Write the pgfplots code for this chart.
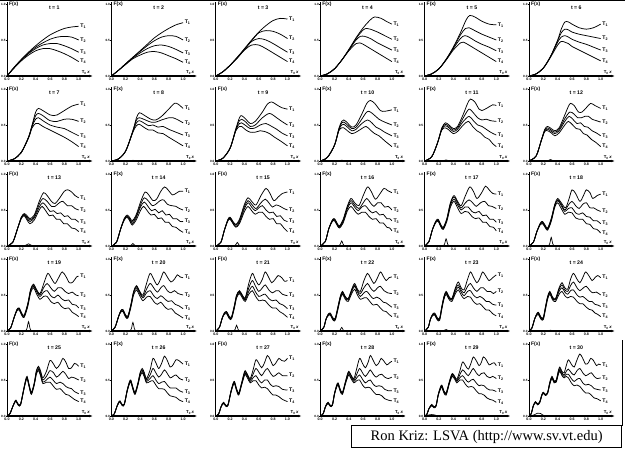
\documentclass[border=0pt]{standalone}
\usepackage{fontspec}
\setmainfont{Liberation Sans}
\newfontfamily\timesf{Liberation Serif}
\usepackage{pgfplots}
\pgfplotsset{compat=1.18}
\usetikzlibrary{arrows.meta}
\pgfplotsset{
 panel/.style={
  scale only axis, width=85.3pt, height=74.2pt,
  xmin=0, xmax=1.19, ymin=0, ymax=1.03,
  axis x line=bottom, axis y line=left,
  x axis line style={-{Stealth[length=3pt,width=2.4pt]}, line width=1.1pt},
  y axis line style={-, line width=1pt},
  xtick={0,0.2,0.4,0.6,0.8,1}, xticklabels={0.0,0.2,0.4,0.6,0.8,1.0},
  ytick={0,0.5,1}, yticklabels={0.0,0.5,1.0},
  tick label style={font=\fontsize{3.6}{4}\selectfont\bfseries, inner sep=0.6pt},
  yticklabel style={font=\fontsize{3.1}{3.5}\selectfont\bfseries, inner sep=0.25pt},
  tick align=outside, major tick length=1pt, tick style={black, line width=0.5pt},
  clip=false, anchor=south west,
 }
}
\tikzset{
 curve/.style={smooth, black, line width=0.75pt, mark=none},
 lab/.style={anchor=west, font=\fontsize{5.2}{6}\selectfont\bfseries, inner sep=1.3pt},
 ttl/.style={font=\fontsize{5.2}{6}\selectfont\bfseries},
 bump/.style={smooth, black, line width=0.7pt, mark=none},
}
\newcommand\panel[8]{%
 \begin{axis}[panel, at={(#1)}]
 \addplot[curve] coordinates {#4} node[lab,pos=1]{T\textsubscript{1}};
 \addplot[curve] coordinates {#5} node[lab,pos=1]{T\textsubscript{2}};
 \addplot[curve] coordinates {#6} node[lab,pos=1]{T\textsubscript{3}};
 \addplot[curve] coordinates {#7} node[lab,pos=1]{T\textsubscript{4}};
 \ifx\relax#8\relax\else\addplot[bump] coordinates {#8};\fi
 \node[ttl] at (axis cs:0.66,0.95) {t = #3};
 \node[anchor=west, font=\fontsize{5}{6}\selectfont\bfseries, inner sep=0.5pt] at (axis cs:0.02,1.0) {F(x)};
 \node[anchor=south, font=\fontsize{4.3}{5}\selectfont\bfseries, inner sep=0.5pt] at (axis cs:1.1,0.01) {T\textsubscript{0}\,\textit{x}};
 \end{axis}}
\begin{document}
\begin{tikzpicture}
\useasboundingbox (0,0) rectangle (625pt,-450pt);
\draw[line width=1pt] (0,-0.5pt) -- (625pt,-0.5pt);
\draw[line width=0.8pt] (622pt,-340pt) -- (622pt,-426pt);
% ---------------- row 1
\panel{7pt,-76pt}{}{1}
{(0,0)(0.1,0.12)(0.2,0.23)(0.3,0.33)(0.4,0.42)(0.5,0.5)(0.6,0.57)(0.7,0.62)(0.8,0.66)(0.9,0.68)(1.0,0.69)}
{(0,0)(0.1,0.12)(0.2,0.23)(0.3,0.32)(0.4,0.4)(0.5,0.46)(0.6,0.51)(0.7,0.54)(0.8,0.55)(0.9,0.54)(1.0,0.5)}
{(0,0)(0.1,0.12)(0.2,0.22)(0.3,0.31)(0.4,0.38)(0.5,0.43)(0.6,0.45)(0.7,0.45)(0.8,0.42)(0.9,0.38)(1.0,0.33)}
{(0,0)(0.1,0.11)(0.2,0.21)(0.3,0.29)(0.4,0.35)(0.5,0.38)(0.6,0.38)(0.7,0.35)(0.8,0.31)(0.9,0.26)(1.0,0.2)}
{}
\panel{111.4pt,-76pt}{}{2}
{(0,0)(0.1,0.08)(0.2,0.17)(0.3,0.26)(0.4,0.35)(0.5,0.44)(0.6,0.53)(0.7,0.6)(0.8,0.66)(0.9,0.71)(1.0,0.74)}
{(0,0)(0.1,0.08)(0.2,0.17)(0.3,0.26)(0.4,0.34)(0.5,0.42)(0.6,0.49)(0.7,0.54)(0.8,0.56)(0.9,0.55)(1.0,0.5)}
{(0,0)(0.1,0.08)(0.2,0.17)(0.3,0.25)(0.4,0.32)(0.5,0.38)(0.6,0.42)(0.7,0.43)(0.8,0.41)(0.9,0.37)(1.0,0.32)}
{(0,0)(0.1,0.08)(0.2,0.16)(0.3,0.24)(0.4,0.29)(0.5,0.33)(0.6,0.34)(0.7,0.32)(0.8,0.28)(0.9,0.24)(1.0,0.19)}
{}
\panel{215.8pt,-76pt}{}{3}
{(0,0)(0.1,0.06)(0.2,0.15)(0.3,0.26)(0.4,0.38)(0.5,0.5)(0.6,0.61)(0.7,0.7)(0.8,0.77)(0.9,0.8)(1.0,0.79)}
{(0,0)(0.1,0.06)(0.2,0.15)(0.3,0.26)(0.4,0.37)(0.5,0.49)(0.6,0.6)(0.7,0.63)(0.8,0.62)(0.9,0.58)(1.0,0.52)}
{(0,0)(0.1,0.06)(0.2,0.15)(0.3,0.25)(0.4,0.37)(0.5,0.48)(0.6,0.52)(0.7,0.5)(0.8,0.45)(0.9,0.39)(1.0,0.33)}
{(0,0)(0.1,0.06)(0.2,0.15)(0.3,0.25)(0.4,0.36)(0.5,0.43)(0.6,0.43)(0.7,0.38)(0.8,0.32)(0.9,0.26)(1.0,0.2)}
{}
\panel{320.2pt,-76pt}{}{4}
{(0,0)(0.1,0.03)(0.2,0.1)(0.3,0.22)(0.4,0.37)(0.5,0.53)(0.6,0.67)(0.7,0.78)(0.76,0.82)(0.85,0.8)(0.92,0.76)(1.0,0.72)}
{(0,0)(0.1,0.03)(0.2,0.1)(0.3,0.22)(0.4,0.36)(0.5,0.52)(0.6,0.64)(0.65,0.66)(0.7,0.65)(0.8,0.61)(0.9,0.56)(1.0,0.51)}
{(0,0)(0.1,0.03)(0.2,0.1)(0.3,0.22)(0.4,0.36)(0.5,0.5)(0.56,0.55)(0.62,0.55)(0.7,0.52)(0.8,0.46)(0.9,0.41)(1.0,0.36)}
{(0,0)(0.1,0.03)(0.2,0.1)(0.3,0.22)(0.4,0.35)(0.5,0.45)(0.55,0.46)(0.6,0.44)(0.7,0.38)(0.8,0.32)(0.9,0.26)(1.0,0.2)}
{}
\panel{424.6pt,-76pt}{}{5}
{(0,0)(0.1,0.03)(0.2,0.1)(0.3,0.23)(0.4,0.4)(0.5,0.6)(0.58,0.78)(0.63,0.84)(0.7,0.82)(0.8,0.76)(0.9,0.72)(1.0,0.71)}
{(0,0)(0.1,0.03)(0.2,0.1)(0.3,0.23)(0.4,0.39)(0.5,0.57)(0.57,0.66)(0.62,0.67)(0.7,0.63)(0.8,0.58)(0.9,0.54)(1.0,0.5)}
{(0,0)(0.1,0.03)(0.2,0.1)(0.3,0.23)(0.4,0.38)(0.5,0.52)(0.56,0.56)(0.62,0.54)(0.7,0.49)(0.8,0.44)(0.9,0.4)(1.0,0.35)}
{(0,0)(0.1,0.03)(0.2,0.1)(0.3,0.22)(0.4,0.36)(0.5,0.46)(0.54,0.47)(0.6,0.44)(0.7,0.38)(0.8,0.32)(0.9,0.26)(1.0,0.2)}
{}
\panel{529pt,-76pt}{}{6}
{(0,0)(0.1,0.03)(0.2,0.11)(0.3,0.27)(0.4,0.5)(0.45,0.65)(0.5,0.75)(0.55,0.75)(0.6,0.72)(0.7,0.67)(0.8,0.65)(0.9,0.67)(1.0,0.72)}
{(0,0)(0.1,0.03)(0.2,0.11)(0.3,0.27)(0.4,0.49)(0.45,0.6)(0.5,0.65)(0.55,0.64)(0.6,0.61)(0.7,0.58)(0.8,0.56)(0.9,0.54)(1.0,0.52)}
{(0,0)(0.1,0.03)(0.2,0.11)(0.3,0.27)(0.4,0.47)(0.45,0.54)(0.5,0.56)(0.55,0.54)(0.6,0.51)(0.7,0.47)(0.8,0.44)(0.9,0.4)(1.0,0.36)}
{(0,0)(0.1,0.03)(0.2,0.11)(0.3,0.26)(0.4,0.43)(0.45,0.48)(0.5,0.47)(0.55,0.45)(0.6,0.41)(0.7,0.36)(0.8,0.31)(0.9,0.26)(1.0,0.21)}
{}
% ---------------- row 2
\panel{7pt,-161pt}{}{7}
{(0,0)(0.1,0.03)(0.2,0.12)(0.3,0.33)(0.35,0.5)(0.4,0.68)(0.44,0.73)(0.5,0.7)(0.6,0.64)(0.65,0.63)(0.7,0.64)(0.8,0.7)(0.9,0.76)(1.0,0.79)}
{(0,0)(0.1,0.03)(0.2,0.12)(0.3,0.33)(0.35,0.49)(0.4,0.63)(0.44,0.66)(0.5,0.63)(0.6,0.56)(0.7,0.55)(0.8,0.58)(0.9,0.58)(1.0,0.55)}
{(0,0)(0.1,0.03)(0.2,0.12)(0.3,0.32)(0.35,0.48)(0.4,0.58)(0.44,0.6)(0.5,0.56)(0.6,0.5)(0.7,0.47)(0.8,0.45)(0.9,0.4)(1.0,0.35)}
{(0,0)(0.1,0.03)(0.2,0.12)(0.3,0.32)(0.35,0.46)(0.4,0.52)(0.44,0.52)(0.5,0.48)(0.6,0.43)(0.7,0.38)(0.8,0.33)(0.9,0.27)(1.0,0.2)}
{}
\panel{111.4pt,-161pt}{}{8}
{(0,0)(0.1,0.03)(0.2,0.14)(0.3,0.42)(0.35,0.6)(0.39,0.67)(0.45,0.64)(0.55,0.58)(0.62,0.57)(0.7,0.62)(0.8,0.72)(0.88,0.8)(0.93,0.79)(1.0,0.73)}
{(0,0)(0.1,0.03)(0.2,0.14)(0.3,0.42)(0.35,0.57)(0.39,0.6)(0.45,0.58)(0.55,0.54)(0.62,0.54)(0.7,0.57)(0.8,0.6)(0.86,0.6)(0.93,0.57)(1.0,0.53)}
{(0,0)(0.1,0.03)(0.2,0.14)(0.3,0.41)(0.35,0.53)(0.39,0.56)(0.45,0.53)(0.52,0.49)(0.58,0.5)(0.65,0.47)(0.72,0.48)(0.8,0.44)(0.9,0.4)(1.0,0.36)}
{(0,0)(0.1,0.03)(0.2,0.14)(0.3,0.4)(0.35,0.49)(0.39,0.51)(0.45,0.47)(0.52,0.43)(0.58,0.43)(0.65,0.39)(0.72,0.38)(0.8,0.33)(0.9,0.27)(1.0,0.21)}
{(0.26,0)(0.3,0.01)(0.34,0)}
\panel{215.8pt,-161pt}{}{9}
{(0,0)(0.1,0.04)(0.2,0.18)(0.28,0.45)(0.33,0.6)(0.36,0.63)(0.42,0.58)(0.48,0.52)(0.55,0.55)(0.65,0.68)(0.72,0.79)(0.78,0.82)(0.85,0.78)(0.92,0.74)(1.0,0.72)}
{(0,0)(0.1,0.04)(0.2,0.18)(0.28,0.44)(0.33,0.56)(0.36,0.58)(0.42,0.54)(0.48,0.48)(0.55,0.5)(0.65,0.6)(0.75,0.66)(0.85,0.6)(0.92,0.55)(1.0,0.5)}
{(0,0)(0.1,0.04)(0.2,0.18)(0.28,0.43)(0.33,0.52)(0.36,0.53)(0.42,0.49)(0.48,0.45)(0.55,0.46)(0.62,0.5)(0.7,0.52)(0.78,0.48)(0.85,0.44)(0.92,0.39)(1.0,0.35)}
{(0,0)(0.1,0.04)(0.2,0.18)(0.28,0.42)(0.33,0.48)(0.36,0.48)(0.42,0.43)(0.48,0.4)(0.55,0.4)(0.62,0.42)(0.68,0.41)(0.75,0.38)(0.82,0.33)(0.9,0.28)(1.0,0.21)}
{(0.26,0)(0.3,0.01)(0.34,0)}
\panel{320.2pt,-161pt}{}{10}
{(0,0)(0.1,0.05)(0.2,0.22)(0.26,0.45)(0.3,0.55)(0.33,0.57)(0.38,0.53)(0.44,0.47)(0.5,0.5)(0.58,0.65)(0.65,0.8)(0.7,0.84)(0.76,0.8)(0.84,0.7)(0.9,0.69)(1.0,0.71)}
{(0,0)(0.1,0.05)(0.2,0.22)(0.26,0.44)(0.3,0.53)(0.33,0.54)(0.38,0.5)(0.44,0.45)(0.5,0.47)(0.58,0.58)(0.64,0.67)(0.68,0.69)(0.74,0.65)(0.82,0.58)(0.9,0.54)(1.0,0.5)}
{(0,0)(0.1,0.05)(0.2,0.22)(0.26,0.43)(0.3,0.5)(0.33,0.51)(0.38,0.47)(0.44,0.42)(0.5,0.44)(0.58,0.52)(0.66,0.57)(0.72,0.53)(0.78,0.47)(0.84,0.44)(0.9,0.4)(1.0,0.35)}
{(0,0)(0.1,0.05)(0.2,0.22)(0.26,0.42)(0.3,0.46)(0.33,0.46)(0.38,0.42)(0.44,0.38)(0.5,0.4)(0.58,0.45)(0.64,0.48)(0.7,0.43)(0.76,0.38)(0.82,0.35)(0.9,0.28)(1.0,0.2)}
{(0.26,0)(0.3,0.012)(0.34,0)}
\panel{424.6pt,-161pt}{}{11}
{(0,0)(0.1,0.06)(0.18,0.25)(0.24,0.46)(0.29,0.53)(0.34,0.5)(0.4,0.45)(0.46,0.48)(0.54,0.65)(0.6,0.8)(0.64,0.86)(0.7,0.82)(0.76,0.72)(0.8,0.7)(0.88,0.74)(0.95,0.78)(1.0,0.77)}
{(0,0)(0.1,0.06)(0.18,0.25)(0.24,0.45)(0.29,0.51)(0.34,0.48)(0.4,0.43)(0.46,0.46)(0.54,0.6)(0.6,0.7)(0.63,0.72)(0.68,0.67)(0.74,0.6)(0.8,0.57)(0.86,0.58)(0.92,0.56)(1.0,0.55)}
{(0,0)(0.1,0.06)(0.18,0.25)(0.24,0.44)(0.29,0.49)(0.34,0.46)(0.4,0.41)(0.46,0.44)(0.54,0.55)(0.62,0.62)(0.68,0.56)(0.74,0.5)(0.8,0.48)(0.86,0.44)(0.92,0.4)(1.0,0.36)}
{(0,0)(0.1,0.06)(0.18,0.25)(0.24,0.43)(0.29,0.46)(0.34,0.43)(0.4,0.38)(0.46,0.41)(0.54,0.5)(0.61,0.55)(0.67,0.48)(0.73,0.42)(0.78,0.39)(0.84,0.33)(0.9,0.3)(0.95,0.24)(1.0,0.2)}
{(0.26,0)(0.3,0.015)(0.34,0)}
\panel{529pt,-161pt}{}{12}
{(0,0)(0.1,0.07)(0.17,0.28)(0.22,0.44)(0.26,0.48)(0.31,0.45)(0.36,0.42)(0.42,0.46)(0.5,0.64)(0.55,0.76)(0.58,0.8)(0.63,0.77)(0.69,0.68)(0.74,0.68)(0.8,0.74)(0.86,0.8)(0.92,0.77)(1.0,0.73)}
{(0,0)(0.1,0.07)(0.17,0.28)(0.22,0.43)(0.26,0.46)(0.31,0.43)(0.36,0.4)(0.42,0.44)(0.5,0.59)(0.57,0.68)(0.63,0.65)(0.68,0.6)(0.73,0.6)(0.78,0.62)(0.83,0.62)(0.88,0.58)(0.94,0.56)(1.0,0.54)}
{(0,0)(0.1,0.07)(0.17,0.28)(0.22,0.42)(0.26,0.44)(0.31,0.41)(0.36,0.38)(0.42,0.42)(0.5,0.55)(0.56,0.62)(0.62,0.57)(0.67,0.52)(0.72,0.53)(0.77,0.48)(0.82,0.47)(0.88,0.42)(0.94,0.39)(1.0,0.35)}
{(0,0)(0.1,0.07)(0.17,0.28)(0.22,0.41)(0.26,0.42)(0.31,0.39)(0.36,0.35)(0.42,0.39)(0.5,0.5)(0.55,0.55)(0.61,0.5)(0.66,0.45)(0.71,0.44)(0.76,0.38)(0.81,0.36)(0.87,0.3)(0.93,0.26)(1.0,0.2)}
{(0.26,0)(0.3,0.02)(0.34,0)}
% ---------------- row 3
\panel{7pt,-246pt}{}{13}
{(0,0)(0.08,0.05)(0.15,0.25)(0.2,0.4)(0.24,0.45)(0.28,0.42)(0.32,0.38)(0.38,0.43)(0.45,0.62)(0.51,0.74)(0.56,0.7)(0.62,0.62)(0.67,0.59)(0.73,0.66)(0.8,0.76)(0.85,0.78)(0.9,0.75)(0.95,0.7)(1.0,0.67)}
{(0,0)(0.08,0.05)(0.15,0.25)(0.2,0.4)(0.24,0.44)(0.28,0.4)(0.32,0.36)(0.38,0.41)(0.45,0.58)(0.5,0.66)(0.56,0.62)(0.62,0.55)(0.67,0.55)(0.73,0.6)(0.78,0.62)(0.84,0.56)(0.9,0.56)(0.95,0.52)(1.0,0.5)}
{(0,0)(0.08,0.05)(0.15,0.25)(0.2,0.39)(0.24,0.43)(0.28,0.38)(0.32,0.34)(0.38,0.39)(0.45,0.54)(0.5,0.6)(0.55,0.55)(0.6,0.48)(0.65,0.49)(0.7,0.45)(0.75,0.46)(0.8,0.41)(0.85,0.42)(0.9,0.37)(0.95,0.37)(1.0,0.33)}
{(0,0)(0.08,0.05)(0.15,0.25)(0.2,0.38)(0.24,0.42)(0.28,0.36)(0.32,0.31)(0.38,0.36)(0.45,0.5)(0.49,0.55)(0.54,0.49)(0.59,0.42)(0.64,0.43)(0.69,0.37)(0.74,0.37)(0.79,0.31)(0.84,0.31)(0.9,0.25)(0.95,0.24)(1.0,0.2)}
{(0.24,0)(0.27,0.015)(0.3,0.03)(0.33,0.015)(0.36,0)}
\panel{111.4pt,-246pt}{}{14}
{(0,0)(0.07,0.05)(0.13,0.24)(0.18,0.38)(0.22,0.43)(0.26,0.39)(0.29,0.35)(0.34,0.42)(0.41,0.62)(0.47,0.75)(0.52,0.71)(0.58,0.63)(0.63,0.65)(0.69,0.76)(0.74,0.82)(0.79,0.78)(0.85,0.71)(0.9,0.73)(0.95,0.76)(1.0,0.76)}
{(0,0)(0.07,0.05)(0.13,0.24)(0.18,0.38)(0.22,0.42)(0.26,0.37)(0.29,0.33)(0.34,0.4)(0.41,0.58)(0.46,0.67)(0.52,0.62)(0.57,0.56)(0.62,0.58)(0.68,0.63)(0.73,0.64)(0.78,0.58)(0.84,0.56)(0.9,0.55)(0.95,0.52)(1.0,0.5)}
{(0,0)(0.07,0.05)(0.13,0.24)(0.18,0.37)(0.22,0.41)(0.26,0.36)(0.29,0.31)(0.34,0.38)(0.41,0.55)(0.46,0.61)(0.51,0.55)(0.56,0.49)(0.61,0.51)(0.66,0.46)(0.71,0.49)(0.76,0.43)(0.81,0.44)(0.86,0.38)(0.91,0.38)(0.96,0.34)(1.0,0.34)}
{(0,0)(0.07,0.05)(0.13,0.24)(0.18,0.36)(0.22,0.4)(0.26,0.34)(0.29,0.29)(0.34,0.35)(0.41,0.5)(0.45,0.55)(0.5,0.49)(0.55,0.43)(0.6,0.44)(0.65,0.38)(0.7,0.39)(0.75,0.33)(0.8,0.33)(0.85,0.27)(0.9,0.26)(0.95,0.22)(1.0,0.19)}
{(0.25,0)(0.28,0.015)(0.3,0.035)(0.32,0.015)(0.35,0)}
\panel{215.8pt,-246pt}{}{15}
{(0,0)(0.07,0.05)(0.12,0.22)(0.17,0.37)(0.2,0.4)(0.24,0.34)(0.28,0.3)(0.33,0.37)(0.4,0.58)(0.45,0.67)(0.5,0.62)(0.56,0.57)(0.63,0.7)(0.7,0.8)(0.75,0.74)(0.81,0.63)(0.87,0.68)(0.93,0.73)(1.0,0.75)}
{(0,0)(0.07,0.05)(0.12,0.22)(0.17,0.37)(0.2,0.39)(0.24,0.33)(0.28,0.29)(0.33,0.35)(0.4,0.55)(0.45,0.63)(0.5,0.58)(0.56,0.52)(0.63,0.6)(0.69,0.65)(0.74,0.6)(0.79,0.54)(0.84,0.57)(0.9,0.55)(0.95,0.52)(1.0,0.5)}
{(0,0)(0.07,0.05)(0.12,0.22)(0.17,0.36)(0.2,0.38)(0.24,0.32)(0.28,0.27)(0.33,0.33)(0.4,0.52)(0.45,0.6)(0.5,0.54)(0.55,0.49)(0.6,0.53)(0.65,0.56)(0.7,0.5)(0.75,0.46)(0.8,0.47)(0.85,0.41)(0.9,0.42)(0.95,0.36)(1.0,0.34)}
{(0,0)(0.07,0.05)(0.12,0.22)(0.17,0.35)(0.2,0.37)(0.24,0.31)(0.28,0.26)(0.33,0.31)(0.4,0.48)(0.45,0.55)(0.5,0.49)(0.55,0.44)(0.6,0.47)(0.65,0.47)(0.7,0.41)(0.75,0.37)(0.8,0.38)(0.85,0.31)(0.9,0.31)(0.95,0.25)(1.0,0.2)}
{(0.26,0)(0.28,0.02)(0.3,0.05)(0.32,0.02)(0.34,0)}
\panel{320.2pt,-246pt}{}{16}
{(0,0)(0.07,0.06)(0.12,0.24)(0.17,0.36)(0.2,0.38)(0.24,0.31)(0.27,0.28)(0.32,0.37)(0.38,0.56)(0.43,0.66)(0.48,0.6)(0.54,0.56)(0.6,0.7)(0.66,0.82)(0.71,0.76)(0.77,0.65)(0.83,0.72)(0.89,0.8)(0.94,0.77)(1.0,0.74)}
{(0,0)(0.07,0.06)(0.12,0.24)(0.17,0.36)(0.2,0.37)(0.24,0.3)(0.27,0.27)(0.32,0.35)(0.38,0.54)(0.43,0.63)(0.48,0.57)(0.54,0.52)(0.6,0.6)(0.65,0.66)(0.7,0.6)(0.75,0.55)(0.8,0.6)(0.85,0.6)(0.9,0.54)(0.95,0.55)(1.0,0.5)}
{(0,0)(0.07,0.06)(0.12,0.24)(0.17,0.35)(0.2,0.36)(0.24,0.29)(0.27,0.26)(0.32,0.34)(0.38,0.52)(0.43,0.6)(0.48,0.54)(0.53,0.49)(0.58,0.54)(0.63,0.56)(0.68,0.5)(0.73,0.46)(0.78,0.48)(0.83,0.43)(0.88,0.44)(0.93,0.38)(0.97,0.38)(1.0,0.35)}
{(0,0)(0.07,0.06)(0.12,0.24)(0.17,0.34)(0.2,0.35)(0.24,0.28)(0.27,0.25)(0.32,0.32)(0.38,0.49)(0.43,0.55)(0.48,0.49)(0.53,0.44)(0.58,0.47)(0.63,0.47)(0.68,0.41)(0.73,0.37)(0.78,0.38)(0.83,0.32)(0.88,0.32)(0.93,0.26)(0.97,0.25)(1.0,0.21)}
{(0.26,0)(0.28,0.025)(0.3,0.07)(0.32,0.025)(0.34,0)}
\panel{424.6pt,-246pt}{}{17}
{(0,0)(0.06,0.06)(0.11,0.23)(0.16,0.35)(0.19,0.37)(0.23,0.29)(0.26,0.26)(0.31,0.38)(0.36,0.6)(0.41,0.7)(0.46,0.62)(0.51,0.56)(0.57,0.7)(0.63,0.82)(0.68,0.76)(0.73,0.66)(0.79,0.73)(0.85,0.83)(0.9,0.78)(0.95,0.73)(1.0,0.72)}
{(0,0)(0.06,0.06)(0.11,0.23)(0.16,0.35)(0.19,0.36)(0.23,0.28)(0.26,0.25)(0.31,0.37)(0.36,0.59)(0.41,0.68)(0.46,0.6)(0.51,0.53)(0.57,0.6)(0.62,0.64)(0.67,0.6)(0.72,0.55)(0.78,0.6)(0.84,0.62)(0.89,0.56)(0.94,0.55)(1.0,0.52)}
{(0,0)(0.06,0.06)(0.11,0.23)(0.16,0.34)(0.19,0.35)(0.23,0.27)(0.26,0.24)(0.31,0.36)(0.36,0.57)(0.41,0.65)(0.46,0.57)(0.51,0.5)(0.56,0.54)(0.61,0.54)(0.66,0.48)(0.71,0.46)(0.76,0.48)(0.81,0.42)(0.86,0.43)(0.91,0.37)(0.96,0.37)(1.0,0.33)}
{(0,0)(0.06,0.06)(0.11,0.23)(0.16,0.33)(0.19,0.34)(0.23,0.26)(0.26,0.23)(0.31,0.34)(0.36,0.54)(0.41,0.62)(0.46,0.53)(0.51,0.45)(0.56,0.48)(0.61,0.47)(0.66,0.41)(0.71,0.38)(0.76,0.39)(0.81,0.33)(0.86,0.33)(0.91,0.27)(0.96,0.26)(1.0,0.21)}
{(0.26,0)(0.28,0.03)(0.3,0.1)(0.32,0.03)(0.34,0)}
\panel{529pt,-246pt}{}{18}
{(0,0)(0.06,0.05)(0.11,0.2)(0.16,0.32)(0.19,0.34)(0.23,0.28)(0.26,0.25)(0.31,0.38)(0.36,0.58)(0.4,0.66)(0.45,0.6)(0.51,0.53)(0.56,0.66)(0.6,0.78)(0.65,0.73)(0.71,0.62)(0.76,0.7)(0.8,0.78)(0.85,0.74)(0.89,0.66)(0.95,0.7)(1.0,0.72)}
{(0,0)(0.06,0.05)(0.11,0.2)(0.16,0.32)(0.19,0.33)(0.23,0.27)(0.26,0.24)(0.31,0.37)(0.36,0.57)(0.4,0.64)(0.45,0.58)(0.5,0.5)(0.55,0.57)(0.6,0.62)(0.65,0.56)(0.7,0.52)(0.75,0.58)(0.8,0.6)(0.85,0.53)(0.9,0.53)(0.95,0.5)(1.0,0.48)}
{(0,0)(0.06,0.05)(0.11,0.2)(0.16,0.31)(0.19,0.32)(0.23,0.26)(0.26,0.23)(0.31,0.36)(0.36,0.56)(0.4,0.63)(0.45,0.56)(0.5,0.48)(0.55,0.52)(0.6,0.53)(0.65,0.46)(0.7,0.44)(0.75,0.46)(0.8,0.41)(0.85,0.4)(0.9,0.35)(0.95,0.35)(1.0,0.31)}
{(0,0)(0.06,0.05)(0.11,0.2)(0.16,0.3)(0.19,0.31)(0.23,0.25)(0.26,0.22)(0.31,0.34)(0.36,0.54)(0.4,0.6)(0.45,0.52)(0.5,0.44)(0.55,0.47)(0.6,0.46)(0.65,0.39)(0.7,0.37)(0.75,0.37)(0.8,0.31)(0.85,0.3)(0.9,0.24)(0.95,0.23)(1.0,0.18)}
{(0.27,0)(0.29,0.035)(0.31,0.12)(0.33,0.035)(0.35,0)}
% ---------------- row 4
\panel{7pt,-331pt}{}{19}
{(0,0)(0.05,0.04)(0.1,0.19)(0.14,0.3)(0.17,0.32)(0.21,0.24)(0.24,0.22)(0.29,0.38)(0.33,0.58)(0.37,0.65)(0.41,0.58)(0.46,0.52)(0.52,0.68)(0.57,0.8)(0.62,0.73)(0.67,0.66)(0.72,0.74)(0.77,0.82)(0.82,0.76)(0.87,0.67)(0.92,0.68)(0.97,0.75)(1.0,0.76)}
{(0,0)(0.05,0.04)(0.1,0.19)(0.14,0.3)(0.17,0.31)(0.21,0.23)(0.24,0.21)(0.29,0.37)(0.33,0.57)(0.37,0.64)(0.41,0.57)(0.46,0.5)(0.51,0.6)(0.56,0.66)(0.61,0.6)(0.66,0.55)(0.71,0.6)(0.76,0.6)(0.81,0.55)(0.86,0.52)(0.91,0.54)(0.96,0.5)(1.0,0.49)}
{(0,0)(0.05,0.04)(0.1,0.19)(0.14,0.29)(0.17,0.3)(0.21,0.22)(0.24,0.2)(0.29,0.36)(0.33,0.56)(0.37,0.62)(0.41,0.55)(0.46,0.48)(0.51,0.54)(0.56,0.56)(0.61,0.49)(0.66,0.46)(0.71,0.5)(0.76,0.45)(0.81,0.42)(0.86,0.43)(0.91,0.37)(0.96,0.36)(1.0,0.32)}
{(0,0)(0.05,0.04)(0.1,0.19)(0.14,0.28)(0.17,0.29)(0.21,0.21)(0.24,0.19)(0.29,0.34)(0.33,0.53)(0.37,0.6)(0.41,0.52)(0.46,0.44)(0.51,0.48)(0.56,0.48)(0.61,0.41)(0.66,0.38)(0.71,0.4)(0.76,0.34)(0.81,0.31)(0.86,0.32)(0.91,0.26)(0.96,0.23)(1.0,0.2)}
{(0.26,0)(0.28,0.04)(0.3,0.13)(0.32,0.04)(0.34,0)}
\panel{111.4pt,-331pt}{}{20}
{(0,0)(0.05,0.05)(0.1,0.2)(0.13,0.28)(0.16,0.3)(0.2,0.22)(0.23,0.21)(0.27,0.36)(0.31,0.55)(0.35,0.63)(0.39,0.56)(0.44,0.5)(0.49,0.66)(0.54,0.8)(0.59,0.72)(0.64,0.64)(0.69,0.73)(0.73,0.82)(0.78,0.75)(0.83,0.68)(0.88,0.72)(0.92,0.78)(0.96,0.75)(1.0,0.74)}
{(0,0)(0.05,0.05)(0.1,0.2)(0.13,0.28)(0.16,0.29)(0.2,0.21)(0.23,0.2)(0.27,0.35)(0.31,0.54)(0.35,0.62)(0.39,0.55)(0.44,0.48)(0.49,0.58)(0.54,0.66)(0.59,0.6)(0.64,0.54)(0.69,0.6)(0.73,0.63)(0.78,0.56)(0.83,0.53)(0.88,0.56)(0.93,0.52)(1.0,0.5)}
{(0,0)(0.05,0.05)(0.1,0.2)(0.13,0.27)(0.16,0.28)(0.2,0.2)(0.23,0.19)(0.27,0.34)(0.31,0.53)(0.35,0.6)(0.39,0.53)(0.44,0.46)(0.49,0.53)(0.54,0.56)(0.59,0.49)(0.64,0.45)(0.69,0.49)(0.74,0.45)(0.79,0.41)(0.84,0.42)(0.89,0.37)(0.94,0.35)(1.0,0.31)}
{(0,0)(0.05,0.05)(0.1,0.2)(0.13,0.26)(0.16,0.27)(0.2,0.19)(0.23,0.18)(0.27,0.32)(0.31,0.5)(0.35,0.57)(0.39,0.5)(0.44,0.42)(0.49,0.47)(0.54,0.48)(0.59,0.41)(0.64,0.37)(0.69,0.4)(0.74,0.34)(0.79,0.3)(0.84,0.31)(0.89,0.25)(0.94,0.22)(1.0,0.18)}
{(0.26,0)(0.28,0.035)(0.3,0.12)(0.32,0.035)(0.34,0)}
\panel{215.8pt,-331pt}{}{21}
{(0,0)(0.05,0.05)(0.09,0.18)(0.12,0.25)(0.15,0.27)(0.19,0.2)(0.22,0.2)(0.26,0.36)(0.29,0.5)(0.33,0.56)(0.37,0.5)(0.41,0.46)(0.46,0.66)(0.51,0.8)(0.55,0.72)(0.6,0.64)(0.65,0.72)(0.69,0.82)(0.74,0.74)(0.78,0.67)(0.83,0.72)(0.87,0.77)(0.92,0.74)(0.96,0.69)(1.0,0.7)}
{(0,0)(0.05,0.05)(0.09,0.18)(0.12,0.25)(0.15,0.26)(0.19,0.19)(0.22,0.19)(0.26,0.35)(0.29,0.49)(0.33,0.55)(0.37,0.49)(0.41,0.45)(0.46,0.6)(0.51,0.7)(0.55,0.63)(0.6,0.55)(0.65,0.6)(0.69,0.64)(0.74,0.57)(0.79,0.53)(0.84,0.56)(0.88,0.56)(0.93,0.51)(1.0,0.49)}
{(0,0)(0.05,0.05)(0.09,0.18)(0.12,0.24)(0.15,0.25)(0.19,0.18)(0.22,0.18)(0.26,0.34)(0.29,0.48)(0.33,0.54)(0.37,0.48)(0.41,0.43)(0.46,0.55)(0.51,0.62)(0.55,0.55)(0.6,0.48)(0.65,0.5)(0.69,0.51)(0.74,0.45)(0.79,0.42)(0.84,0.43)(0.89,0.38)(0.94,0.36)(1.0,0.31)}
{(0,0)(0.05,0.05)(0.09,0.18)(0.12,0.23)(0.15,0.24)(0.19,0.17)(0.22,0.17)(0.26,0.32)(0.29,0.46)(0.33,0.52)(0.37,0.46)(0.41,0.41)(0.46,0.51)(0.51,0.56)(0.55,0.49)(0.6,0.42)(0.65,0.43)(0.69,0.42)(0.74,0.36)(0.79,0.32)(0.84,0.32)(0.89,0.27)(0.94,0.24)(1.0,0.19)}
{(0.25,0)(0.27,0.025)(0.29,0.08)(0.31,0.025)(0.33,0)}
\panel{320.2pt,-331pt}{}{22}
{(0,0)(0.05,0.05)(0.08,0.16)(0.11,0.23)(0.14,0.25)(0.18,0.18)(0.21,0.18)(0.25,0.35)(0.28,0.48)(0.31,0.55)(0.35,0.48)(0.39,0.45)(0.44,0.58)(0.48,0.66)(0.52,0.58)(0.56,0.55)(0.61,0.7)(0.66,0.8)(0.7,0.74)(0.75,0.66)(0.79,0.72)(0.84,0.82)(0.88,0.76)(0.92,0.7)(0.96,0.74)(1.0,0.75)}
{(0,0)(0.05,0.05)(0.08,0.16)(0.11,0.23)(0.14,0.24)(0.18,0.17)(0.21,0.17)(0.25,0.34)(0.28,0.47)(0.31,0.54)(0.35,0.47)(0.39,0.44)(0.44,0.57)(0.48,0.64)(0.52,0.56)(0.56,0.52)(0.61,0.6)(0.66,0.66)(0.7,0.6)(0.75,0.55)(0.8,0.6)(0.84,0.62)(0.89,0.56)(0.94,0.53)(1.0,0.52)}
{(0,0)(0.05,0.05)(0.08,0.16)(0.11,0.22)(0.14,0.23)(0.18,0.16)(0.21,0.16)(0.25,0.33)(0.28,0.46)(0.31,0.53)(0.35,0.46)(0.39,0.43)(0.44,0.55)(0.48,0.62)(0.52,0.54)(0.56,0.48)(0.61,0.53)(0.65,0.55)(0.7,0.49)(0.74,0.45)(0.79,0.47)(0.83,0.45)(0.88,0.4)(0.92,0.39)(0.96,0.36)(1.0,0.33)}
{(0,0)(0.05,0.05)(0.08,0.16)(0.11,0.21)(0.14,0.22)(0.18,0.15)(0.21,0.15)(0.25,0.31)(0.28,0.44)(0.31,0.51)(0.35,0.44)(0.39,0.41)(0.44,0.52)(0.48,0.58)(0.52,0.5)(0.56,0.44)(0.61,0.46)(0.65,0.46)(0.7,0.4)(0.74,0.36)(0.79,0.37)(0.83,0.33)(0.88,0.28)(0.92,0.27)(0.96,0.23)(1.0,0.2)}
{(0.26,0)(0.28,0.015)(0.3,0.05)(0.32,0.015)(0.34,0)}
\panel{424.6pt,-331pt}{}{23}
{(0,0)(0.05,0.05)(0.08,0.16)(0.11,0.23)(0.14,0.25)(0.18,0.18)(0.21,0.18)(0.24,0.34)(0.27,0.48)(0.3,0.55)(0.34,0.48)(0.38,0.45)(0.43,0.6)(0.47,0.68)(0.51,0.6)(0.55,0.57)(0.6,0.72)(0.64,0.82)(0.68,0.75)(0.73,0.67)(0.77,0.73)(0.81,0.82)(0.85,0.77)(0.9,0.7)(0.95,0.74)(1.0,0.78)}
{(0,0)(0.05,0.05)(0.08,0.16)(0.11,0.23)(0.14,0.24)(0.18,0.17)(0.21,0.17)(0.24,0.33)(0.27,0.47)(0.3,0.54)(0.34,0.47)(0.38,0.44)(0.43,0.58)(0.47,0.64)(0.51,0.57)(0.55,0.53)(0.6,0.62)(0.64,0.66)(0.68,0.6)(0.73,0.55)(0.78,0.6)(0.82,0.6)(0.87,0.55)(0.92,0.55)(0.96,0.52)(1.0,0.55)}
{(0,0)(0.05,0.05)(0.08,0.16)(0.11,0.22)(0.14,0.23)(0.18,0.16)(0.21,0.16)(0.24,0.32)(0.27,0.46)(0.3,0.53)(0.34,0.46)(0.38,0.43)(0.43,0.55)(0.47,0.61)(0.51,0.54)(0.55,0.49)(0.6,0.55)(0.64,0.56)(0.68,0.5)(0.73,0.46)(0.77,0.48)(0.82,0.45)(0.86,0.41)(0.9,0.41)(0.95,0.37)(1.0,0.36)}
{(0,0)(0.05,0.05)(0.08,0.16)(0.11,0.21)(0.14,0.22)(0.18,0.15)(0.21,0.15)(0.24,0.3)(0.27,0.44)(0.3,0.51)(0.34,0.44)(0.38,0.41)(0.43,0.52)(0.47,0.57)(0.51,0.5)(0.55,0.45)(0.6,0.48)(0.64,0.47)(0.68,0.41)(0.73,0.37)(0.77,0.38)(0.82,0.33)(0.86,0.29)(0.9,0.29)(0.95,0.24)(1.0,0.21)}
{(0.26,0)(0.3,0.02)(0.34,0)}
\panel{529pt,-331pt}{}{24}
{(0,0)(0.04,0.04)(0.08,0.17)(0.11,0.24)(0.13,0.26)(0.17,0.19)(0.2,0.19)(0.23,0.34)(0.26,0.48)(0.29,0.55)(0.33,0.47)(0.37,0.45)(0.42,0.6)(0.46,0.67)(0.5,0.6)(0.54,0.58)(0.58,0.72)(0.62,0.8)(0.67,0.72)(0.71,0.67)(0.75,0.74)(0.79,0.82)(0.84,0.76)(0.88,0.7)(0.92,0.74)(0.96,0.77)(1.0,0.74)}
{(0,0)(0.04,0.04)(0.08,0.17)(0.11,0.24)(0.13,0.25)(0.17,0.18)(0.2,0.18)(0.23,0.33)(0.26,0.47)(0.29,0.54)(0.33,0.46)(0.37,0.44)(0.42,0.58)(0.46,0.64)(0.5,0.57)(0.54,0.55)(0.58,0.63)(0.62,0.68)(0.67,0.6)(0.71,0.56)(0.76,0.6)(0.8,0.62)(0.85,0.56)(0.89,0.53)(0.94,0.54)(1.0,0.5)}
{(0,0)(0.04,0.04)(0.08,0.17)(0.11,0.23)(0.13,0.24)(0.17,0.17)(0.2,0.17)(0.23,0.32)(0.26,0.46)(0.29,0.53)(0.33,0.45)(0.37,0.43)(0.42,0.55)(0.46,0.6)(0.5,0.54)(0.54,0.51)(0.58,0.56)(0.62,0.57)(0.67,0.5)(0.71,0.47)(0.75,0.48)(0.8,0.44)(0.84,0.41)(0.88,0.41)(0.92,0.37)(0.96,0.36)(1.0,0.34)}
{(0,0)(0.04,0.04)(0.08,0.17)(0.11,0.22)(0.13,0.23)(0.17,0.16)(0.2,0.16)(0.23,0.3)(0.26,0.44)(0.29,0.51)(0.33,0.43)(0.37,0.41)(0.42,0.51)(0.46,0.55)(0.5,0.49)(0.54,0.46)(0.58,0.48)(0.62,0.47)(0.67,0.41)(0.71,0.38)(0.75,0.38)(0.8,0.33)(0.84,0.3)(0.88,0.29)(0.92,0.25)(0.96,0.23)(1.0,0.2)}
{(0.27,0)(0.3,0.012)(0.33,0)}
% ---------------- row 5
\panel{7pt,-416pt}{}{25}
{(0,0)(0.04,0.03)(0.08,0.13)(0.11,0.2)(0.125,0.22)(0.16,0.16)(0.19,0.17)(0.23,0.36)(0.26,0.5)(0.28,0.55)(0.31,0.43)(0.34,0.33)(0.38,0.46)(0.41,0.63)(0.44,0.69)(0.47,0.62)(0.5,0.53)(0.55,0.62)(0.6,0.77)(0.65,0.72)(0.69,0.66)(0.74,0.72)(0.78,0.8)(0.82,0.75)(0.86,0.66)(0.9,0.67)(0.94,0.73)(0.97,0.72)(1.0,0.69)}
{(0,0)(0.04,0.03)(0.08,0.13)(0.11,0.2)(0.125,0.215)(0.16,0.155)(0.19,0.165)(0.23,0.355)(0.26,0.49)(0.28,0.54)(0.31,0.42)(0.34,0.32)(0.38,0.45)(0.41,0.62)(0.44,0.67)(0.47,0.6)(0.5,0.5)(0.55,0.55)(0.6,0.63)(0.65,0.6)(0.69,0.54)(0.74,0.58)(0.78,0.62)(0.82,0.58)(0.86,0.52)(0.9,0.54)(0.94,0.53)(1.0,0.5)}
{(0,0)(0.04,0.03)(0.08,0.13)(0.11,0.195)(0.125,0.21)(0.16,0.15)(0.19,0.16)(0.23,0.35)(0.26,0.48)(0.28,0.53)(0.31,0.41)(0.34,0.31)(0.38,0.44)(0.41,0.6)(0.44,0.65)(0.47,0.57)(0.5,0.47)(0.55,0.5)(0.6,0.54)(0.65,0.49)(0.69,0.45)(0.74,0.47)(0.78,0.45)(0.82,0.41)(0.86,0.39)(0.9,0.38)(0.94,0.34)(1.0,0.31)}
{(0,0)(0.04,0.03)(0.08,0.13)(0.11,0.19)(0.125,0.205)(0.16,0.145)(0.19,0.155)(0.23,0.34)(0.26,0.47)(0.28,0.52)(0.31,0.4)(0.34,0.3)(0.38,0.43)(0.41,0.58)(0.44,0.63)(0.47,0.55)(0.5,0.45)(0.55,0.47)(0.6,0.47)(0.65,0.41)(0.69,0.37)(0.74,0.38)(0.78,0.34)(0.82,0.3)(0.86,0.29)(0.9,0.26)(0.94,0.23)(1.0,0.2)}
{}
\panel{111.4pt,-416pt}{}{26}
{(0,0)(0.04,0.03)(0.08,0.14)(0.1,0.19)(0.12,0.21)(0.15,0.16)(0.18,0.17)(0.22,0.36)(0.25,0.47)(0.27,0.5)(0.3,0.4)(0.33,0.33)(0.37,0.46)(0.4,0.6)(0.43,0.66)(0.46,0.6)(0.49,0.52)(0.54,0.64)(0.58,0.8)(0.62,0.74)(0.66,0.66)(0.7,0.73)(0.74,0.83)(0.78,0.77)(0.82,0.68)(0.86,0.71)(0.9,0.78)(0.94,0.77)(1.0,0.72)}
{(0,0)(0.04,0.03)(0.08,0.14)(0.1,0.185)(0.12,0.205)(0.15,0.155)(0.18,0.165)(0.22,0.355)(0.25,0.46)(0.27,0.49)(0.3,0.39)(0.33,0.32)(0.37,0.45)(0.4,0.59)(0.43,0.64)(0.46,0.58)(0.49,0.5)(0.54,0.57)(0.58,0.66)(0.62,0.6)(0.66,0.54)(0.7,0.58)(0.74,0.64)(0.78,0.59)(0.82,0.53)(0.86,0.55)(0.9,0.57)(0.95,0.52)(1.0,0.5)}
{(0,0)(0.04,0.03)(0.08,0.14)(0.1,0.18)(0.12,0.2)(0.15,0.15)(0.18,0.16)(0.22,0.35)(0.25,0.45)(0.27,0.48)(0.3,0.38)(0.33,0.31)(0.37,0.44)(0.4,0.57)(0.43,0.62)(0.46,0.56)(0.49,0.48)(0.54,0.52)(0.58,0.56)(0.62,0.5)(0.66,0.45)(0.7,0.47)(0.74,0.48)(0.78,0.43)(0.82,0.39)(0.86,0.39)(0.9,0.39)(0.95,0.35)(1.0,0.33)}
{(0,0)(0.04,0.03)(0.08,0.14)(0.1,0.175)(0.12,0.195)(0.15,0.145)(0.18,0.155)(0.22,0.34)(0.25,0.44)(0.27,0.47)(0.3,0.37)(0.33,0.3)(0.37,0.43)(0.4,0.55)(0.43,0.6)(0.46,0.54)(0.49,0.46)(0.54,0.48)(0.58,0.49)(0.62,0.43)(0.66,0.38)(0.7,0.38)(0.74,0.37)(0.78,0.32)(0.82,0.28)(0.86,0.27)(0.9,0.26)(0.95,0.22)(1.0,0.2)}
{}
\panel{215.8pt,-416pt}{}{27}
{(0,0)(0.04,0.03)(0.07,0.12)(0.09,0.17)(0.11,0.19)(0.14,0.15)(0.17,0.16)(0.21,0.34)(0.24,0.45)(0.26,0.48)(0.29,0.38)(0.32,0.32)(0.36,0.46)(0.39,0.58)(0.41,0.63)(0.44,0.58)(0.48,0.52)(0.52,0.64)(0.56,0.78)(0.6,0.73)(0.64,0.67)(0.68,0.74)(0.72,0.84)(0.76,0.78)(0.8,0.7)(0.84,0.74)(0.88,0.8)(0.92,0.77)(0.96,0.76)(1.0,0.8)}
{(0,0)(0.04,0.03)(0.07,0.12)(0.09,0.165)(0.11,0.185)(0.14,0.145)(0.17,0.155)(0.21,0.335)(0.24,0.44)(0.26,0.47)(0.29,0.37)(0.32,0.31)(0.36,0.45)(0.39,0.57)(0.41,0.62)(0.44,0.57)(0.48,0.5)(0.52,0.58)(0.56,0.66)(0.6,0.61)(0.64,0.56)(0.68,0.62)(0.72,0.66)(0.76,0.6)(0.8,0.55)(0.84,0.57)(0.88,0.6)(0.93,0.56)(1.0,0.56)}
{(0,0)(0.04,0.03)(0.07,0.12)(0.09,0.16)(0.11,0.18)(0.14,0.14)(0.17,0.15)(0.21,0.33)(0.24,0.43)(0.26,0.46)(0.29,0.36)(0.32,0.3)(0.36,0.44)(0.39,0.55)(0.41,0.6)(0.44,0.55)(0.48,0.48)(0.52,0.53)(0.56,0.56)(0.6,0.5)(0.64,0.46)(0.68,0.5)(0.72,0.5)(0.76,0.44)(0.8,0.41)(0.84,0.42)(0.88,0.41)(0.93,0.37)(1.0,0.36)}
{(0,0)(0.04,0.03)(0.07,0.12)(0.09,0.155)(0.11,0.175)(0.14,0.135)(0.17,0.145)(0.21,0.32)(0.24,0.42)(0.26,0.45)(0.29,0.35)(0.32,0.29)(0.36,0.43)(0.39,0.53)(0.41,0.58)(0.44,0.53)(0.48,0.46)(0.52,0.49)(0.56,0.49)(0.6,0.43)(0.64,0.39)(0.68,0.4)(0.72,0.38)(0.76,0.33)(0.8,0.29)(0.84,0.29)(0.88,0.27)(0.93,0.23)(1.0,0.2)}
{}
\panel{320.2pt,-416pt}{}{28}
{(0,0)(0.04,0.03)(0.07,0.12)(0.09,0.17)(0.11,0.19)(0.14,0.15)(0.17,0.16)(0.2,0.32)(0.23,0.43)(0.25,0.46)(0.28,0.37)(0.31,0.33)(0.35,0.47)(0.38,0.58)(0.4,0.62)(0.43,0.57)(0.47,0.52)(0.51,0.66)(0.55,0.8)(0.59,0.73)(0.63,0.67)(0.67,0.75)(0.7,0.84)(0.74,0.77)(0.78,0.7)(0.82,0.74)(0.85,0.8)(0.89,0.76)(0.93,0.71)(0.97,0.74)(1.0,0.76)}
{(0,0)(0.04,0.03)(0.07,0.12)(0.09,0.165)(0.11,0.185)(0.14,0.145)(0.17,0.155)(0.2,0.315)(0.23,0.42)(0.25,0.45)(0.28,0.36)(0.31,0.32)(0.35,0.46)(0.38,0.57)(0.4,0.61)(0.43,0.56)(0.47,0.5)(0.51,0.58)(0.55,0.66)(0.59,0.6)(0.63,0.55)(0.67,0.6)(0.7,0.64)(0.74,0.58)(0.78,0.54)(0.82,0.57)(0.86,0.58)(0.9,0.54)(0.95,0.52)(1.0,0.54)}
{(0,0)(0.04,0.03)(0.07,0.12)(0.09,0.16)(0.11,0.18)(0.14,0.14)(0.17,0.15)(0.2,0.31)(0.23,0.41)(0.25,0.44)(0.28,0.35)(0.31,0.31)(0.35,0.45)(0.38,0.55)(0.4,0.59)(0.43,0.54)(0.47,0.48)(0.51,0.53)(0.55,0.57)(0.59,0.51)(0.63,0.46)(0.67,0.49)(0.7,0.5)(0.74,0.44)(0.78,0.41)(0.82,0.42)(0.86,0.41)(0.9,0.37)(0.95,0.35)(1.0,0.35)}
{(0,0)(0.04,0.03)(0.07,0.12)(0.09,0.155)(0.11,0.175)(0.14,0.135)(0.17,0.145)(0.2,0.3)(0.23,0.4)(0.25,0.43)(0.28,0.34)(0.31,0.3)(0.35,0.44)(0.38,0.53)(0.4,0.57)(0.43,0.52)(0.47,0.46)(0.51,0.49)(0.55,0.5)(0.59,0.43)(0.63,0.39)(0.67,0.4)(0.7,0.39)(0.74,0.34)(0.78,0.3)(0.82,0.3)(0.86,0.28)(0.9,0.24)(0.95,0.22)(1.0,0.21)}
{}
\panel{424.6pt,-416pt}{}{29}
{(0,0)(0.03,0.02)(0.06,0.1)(0.08,0.14)(0.1,0.16)(0.13,0.13)(0.16,0.15)(0.19,0.3)(0.22,0.4)(0.24,0.43)(0.27,0.35)(0.3,0.32)(0.34,0.46)(0.37,0.56)(0.39,0.59)(0.42,0.55)(0.45,0.51)(0.49,0.62)(0.53,0.75)(0.57,0.7)(0.61,0.65)(0.65,0.74)(0.68,0.82)(0.72,0.77)(0.76,0.7)(0.79,0.74)(0.82,0.82)(0.86,0.78)(0.9,0.71)(0.94,0.73)(0.97,0.74)(1.0,0.7)}
{(0,0)(0.03,0.02)(0.06,0.1)(0.08,0.135)(0.1,0.155)(0.13,0.125)(0.16,0.145)(0.19,0.295)(0.22,0.39)(0.24,0.42)(0.27,0.34)(0.3,0.31)(0.34,0.45)(0.37,0.55)(0.39,0.58)(0.42,0.54)(0.45,0.49)(0.49,0.57)(0.53,0.64)(0.57,0.6)(0.61,0.56)(0.65,0.62)(0.68,0.66)(0.72,0.6)(0.76,0.56)(0.79,0.59)(0.83,0.6)(0.87,0.55)(0.91,0.53)(0.95,0.55)(1.0,0.52)}
{(0,0)(0.03,0.02)(0.06,0.1)(0.08,0.13)(0.1,0.15)(0.13,0.12)(0.16,0.14)(0.19,0.29)(0.22,0.38)(0.24,0.41)(0.27,0.33)(0.3,0.3)(0.34,0.44)(0.37,0.54)(0.39,0.57)(0.42,0.53)(0.45,0.48)(0.49,0.53)(0.53,0.56)(0.57,0.51)(0.61,0.47)(0.65,0.5)(0.68,0.51)(0.72,0.46)(0.76,0.42)(0.79,0.43)(0.83,0.42)(0.87,0.38)(0.91,0.36)(0.95,0.36)(1.0,0.34)}
{(0,0)(0.03,0.02)(0.06,0.1)(0.08,0.125)(0.1,0.145)(0.13,0.115)(0.16,0.135)(0.19,0.285)(0.22,0.37)(0.24,0.4)(0.27,0.32)(0.3,0.29)(0.34,0.43)(0.37,0.52)(0.39,0.55)(0.42,0.51)(0.45,0.46)(0.49,0.5)(0.53,0.5)(0.57,0.44)(0.61,0.4)(0.65,0.41)(0.68,0.4)(0.72,0.35)(0.76,0.31)(0.79,0.31)(0.83,0.29)(0.87,0.25)(0.91,0.23)(0.95,0.22)(1.0,0.19)}
{(0.02,0)(0.06,0.015)(0.1,0.02)(0.14,0.015)(0.18,0)}
\panel{529pt,-416pt}{}{30}
{(0,0)(0.03,0.03)(0.06,0.14)(0.09,0.2)(0.12,0.17)(0.15,0.2)(0.18,0.3)(0.2,0.33)(0.23,0.3)(0.26,0.33)(0.29,0.47)(0.32,0.55)(0.35,0.49)(0.38,0.5)(0.41,0.63)(0.43,0.68)(0.46,0.62)(0.49,0.6)(0.52,0.7)(0.55,0.78)(0.59,0.72)(0.63,0.68)(0.67,0.78)(0.71,0.86)(0.75,0.8)(0.79,0.72)(0.83,0.74)(0.86,0.8)(0.9,0.77)(0.94,0.7)(0.97,0.72)(1.0,0.71)}
{(0,0)(0.03,0.03)(0.06,0.14)(0.09,0.195)(0.12,0.165)(0.15,0.195)(0.18,0.295)(0.2,0.325)(0.23,0.295)(0.26,0.325)(0.29,0.46)(0.32,0.54)(0.35,0.48)(0.38,0.49)(0.41,0.62)(0.43,0.66)(0.46,0.6)(0.49,0.57)(0.52,0.62)(0.55,0.65)(0.59,0.6)(0.63,0.57)(0.67,0.63)(0.71,0.66)(0.75,0.6)(0.79,0.56)(0.83,0.58)(0.87,0.6)(0.91,0.55)(0.95,0.52)(1.0,0.53)}
{(0,0)(0.03,0.03)(0.06,0.14)(0.09,0.19)(0.12,0.16)(0.15,0.19)(0.18,0.29)(0.2,0.32)(0.23,0.29)(0.26,0.32)(0.29,0.45)(0.32,0.53)(0.35,0.47)(0.38,0.48)(0.41,0.6)(0.43,0.64)(0.46,0.58)(0.49,0.55)(0.52,0.58)(0.55,0.58)(0.59,0.52)(0.63,0.48)(0.67,0.51)(0.71,0.52)(0.75,0.46)(0.79,0.43)(0.83,0.44)(0.87,0.42)(0.91,0.38)(0.95,0.37)(1.0,0.36)}
{(0,0)(0.03,0.03)(0.06,0.14)(0.09,0.185)(0.12,0.155)(0.15,0.185)(0.18,0.285)(0.2,0.315)(0.23,0.285)(0.26,0.315)(0.29,0.44)(0.32,0.52)(0.35,0.46)(0.38,0.47)(0.41,0.58)(0.43,0.62)(0.46,0.56)(0.49,0.53)(0.52,0.55)(0.55,0.53)(0.59,0.46)(0.63,0.42)(0.67,0.43)(0.71,0.41)(0.75,0.36)(0.79,0.32)(0.83,0.32)(0.87,0.29)(0.91,0.25)(0.95,0.24)(1.0,0.21)}
{(0.03,0)(0.08,0.02)(0.12,0.04)(0.16,0.035)(0.2,0.01)(0.24,0)}
% ---------------- credit box
\node[draw, line width=0.7pt, anchor=south east, minimum width=270pt, minimum height=22pt, inner sep=1pt, font=\timesf\fontsize{14.5}{16}\selectfont] at (622pt,-448pt) {Ron Kriz: LSVA (http://www.sv.vt.edu)};
\end{tikzpicture}
\end{document}
